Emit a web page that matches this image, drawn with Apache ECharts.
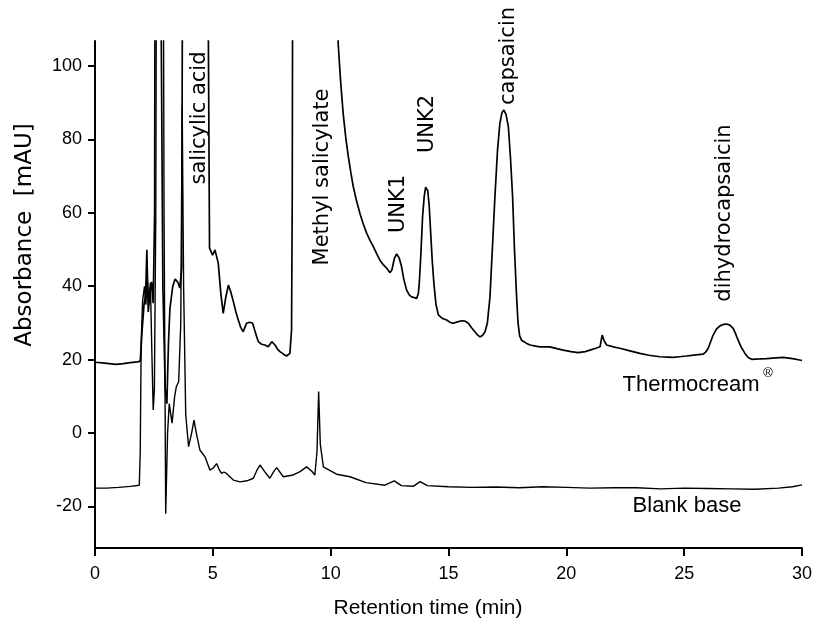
<!DOCTYPE html>
<html>
<head>
<meta charset="utf-8">
<script src="https://cdn.jsdelivr.net/npm/echarts@6/dist/echarts.min.js"></script>
<style>
html,body{margin:0;padding:0;background:#fff;}
#chart{width:815px;height:623px;}
</style>
</head>
<body>
<div id="chart"></div>
<script>
// Thermocream trace (retention time in min, absorbance in mAU)
var thermoTime = [0.0,0.3,0.6,0.9,1.2,1.5,1.8,1.92,2.0,2.08,2.15,2.2,2.26,2.33,2.4,2.47,2.53,2.58,2.7,2.8,2.88,2.98,3.05,3.12,3.18,3.3,3.4,3.52,3.6,3.68,3.76,4.7,4.8,4.86,4.99,5.09,5.23,5.34,5.44,5.55,5.66,5.76,5.87,5.98,6.08,6.18,6.29,6.36,6.43,6.56,6.69,6.8,6.93,7.07,7.21,7.35,7.5,7.64,7.75,7.85,8.0,8.13,8.27,8.34,8.37,8.42,10.2,10.32,10.42,10.53,10.64,10.75,10.86,10.96,11.1,11.24,11.38,11.53,11.67,11.81,11.95,12.09,12.24,12.38,12.52,12.6,12.7,12.8,12.9,13.01,13.1,13.22,13.34,13.44,13.55,13.65,13.72,13.76,13.83,13.9,13.97,14.03,14.07,14.12,14.18,14.24,14.31,14.38,14.47,14.57,14.75,14.92,15.06,15.2,15.38,15.56,15.7,15.84,15.98,16.12,16.22,16.33,16.44,16.55,16.65,16.76,16.86,16.97,17.08,17.18,17.27,17.35,17.44,17.54,17.63,17.72,17.8,17.89,17.95,18.02,18.1,18.3,18.46,18.7,18.88,19.1,19.3,19.6,19.87,20.2,20.5,20.8,21.0,21.25,21.43,21.52,21.6,21.71,22.0,22.27,22.7,23.12,23.5,23.97,24.3,24.54,24.8,25.1,25.5,25.81,25.92,26.02,26.12,26.23,26.37,26.52,26.66,26.8,26.94,27.08,27.18,27.29,27.43,27.58,27.72,27.86,28.2,28.5,28.9,29.2,29.6,29.9,30.0];
var thermoAbs = [19.3,19.1,18.9,18.7,18.9,19.2,19.4,19.6,28,35,38,49.9,33,38,41.2,35.4,60,250,250,120,40,12,8,25,34,40,42,41,39.5,45,250,250,120,50.4,48.5,49.9,46.3,38,32.6,37,40.3,38.5,35.8,33,30.8,28.8,27.6,28.8,29.9,30.2,29.9,27.5,24.9,24.2,24.0,23.5,24.9,24.0,22.8,22.2,21.5,21.0,21.7,28,64,250,250,106,96,87.1,80.5,75.3,70.8,67.1,63.2,59.9,57,54.4,52.5,50.8,48.9,47.1,45.8,44.9,43.7,44.5,47.5,48.8,47.8,45.3,42,39.0,37.6,37.1,36.9,36.7,38,40.8,49,58.9,64.5,67,67.3,66,62,55,47,40.8,35,32.2,31.2,30.8,30.2,29.9,30.3,30.6,30.5,29.9,28.7,27.6,26.8,26.2,26.6,27.6,30,37.1,50,64.4,77,84.4,87.3,88.0,86.8,83.5,75,64.4,50,37.1,30,26.5,25.3,24.5,24.0,23.7,23.5,23.5,23.5,23.0,22.6,22.2,21.9,22.2,22.6,23.1,23.5,26.7,25.2,24.0,23.5,23.1,22.4,21.7,21.2,20.8,20.7,20.6,20.8,21.0,21.3,21.5,22.1,23.1,24.8,26.7,28.3,29.2,29.6,29.7,29.4,28.5,27.1,25.3,23.3,21.7,20.6,20.1,20.2,20.3,20.5,20.6,20.3,19.9,19.8];

// Blank base trace
var blankTime = [0.0,0.5,1.0,1.5,1.88,1.92,1.96,2.02,2.1,2.16,2.22,2.28,2.35,2.42,2.47,2.52,2.58,2.65,2.85,2.93,3.0,3.08,3.15,3.27,3.38,3.45,3.55,3.64,3.7,3.76,3.85,3.97,4.03,4.1,4.2,4.3,4.45,4.67,4.88,5.02,5.16,5.26,5.37,5.47,5.58,5.87,6.15,6.45,6.72,6.88,7.0,7.2,7.42,7.58,7.71,7.99,8.41,8.7,8.98,9.2,9.33,9.42,9.49,9.56,9.69,10.25,10.82,11.5,12.3,12.7,13.0,13.5,13.8,14.1,15,16,17,18,19,20,21,22,23,24,25,26,27,28,29,29.6,30.0];
var blankAbs = [-15.0,-15.0,-14.8,-14.5,-14.2,-5,25,36,40,35,42,36,41,20,6.3,12,60,250,250,60,-22,0,8,2.7,10,12.6,14,30,89,40,5,-3.7,-3.7,0,3.5,0,-4.6,-6.5,-10.1,-9.5,-8.3,-9.8,-11,-10.6,-11,-12.8,-13.3,-13.0,-12.3,-10,-8.7,-10.5,-12.3,-10.5,-9.4,-11.9,-11.4,-10.5,-9.2,-10.4,-11.4,-5,11.3,-3,-9.2,-11.2,-11.9,-13.5,-14.2,-13.0,-14.3,-14.5,-13.2,-14.3,-14.6,-14.8,-14.7,-14.9,-14.6,-14.8,-15.0,-14.9,-14.9,-15.2,-15.0,-15.1,-15.2,-15.3,-15.0,-14.6,-14.1];

// Axis ticks
var xTicks = [0,5,10,15,20,25,30];
var yTicks = [-20,0,20,40,60,80,100];

function zip(a, b) { return a.map(function (v, i) { return [v, b[i]]; }); }

var FONT = 'Liberation Sans, Arial, sans-serif';
var WIDE = 'DejaVu Sans, sans-serif';
var chart = echarts.init(document.getElementById('chart'));

function rotLabel(text, x, y, size) {
  return { type: 'text', x: x, y: y, rotation: Math.PI / 2,
    style: { text: text, font: (size || 21) + 'px ' + WIDE, fill: '#000', align: 'center', verticalAlign: 'middle' } };
}

chart.setOption({
  animation: false,
  backgroundColor: '#fff',
  grid: { left: 95, right: 13, top: 41, bottom: 75, containLabel: false },
  xAxis: {
    type: 'value', min: 0, max: 30, interval: 5,
    axisLine: { show: true, onZero: false, lineStyle: { color: '#000', width: 2 } },
    axisTick: { show: true, length: 8, lineStyle: { color: '#000', width: 2 } },
    axisLabel: { color: '#000', fontSize: 18, fontFamily: FONT, margin: 17, customValues: xTicks },
    splitLine: { show: false }
  },
  yAxis: {
    type: 'value', min: -31.3, max: 106.8,
    axisLine: { show: true, onZero: false, lineStyle: { color: '#000', width: 2 } },
    axisTick: { show: true, length: 7, lineStyle: { color: '#000', width: 2 }, customValues: yTicks },
    axisLabel: { color: '#000', fontSize: 18, fontFamily: FONT, margin: 13, customValues: yTicks },
    splitLine: { show: false }
  },
  series: [
    { name: 'Thermocream', type: 'line', data: zip(thermoTime, thermoAbs), showSymbol: false,
      lineStyle: { color: '#000', width: 1.7 }, clip: true },
    { name: 'Blank base', type: 'line', data: zip(blankTime, blankAbs), showSymbol: false,
      lineStyle: { color: '#000', width: 1.4 }, clip: true }
  ],
  graphic: [
    rotLabel('Absorbance  [mAU]', 25, 235, 23),
    { type: 'text', x: 428, y: 608, style: { text: 'Retention time (min)', font: '21px ' + FONT, fill: '#000', align: 'center', verticalAlign: 'middle' } },
    rotLabel('salicylic acid', 200, 118),
    rotLabel('Methyl salicylate', 323, 177),
    rotLabel('UNK1', 399, 204),
    rotLabel('UNK2', 428, 124),
    rotLabel('capsaicin', 509, 56),
    rotLabel('dihydrocapsaicin', 725, 213),
    { type: 'text', x: 691, y: 385, style: { text: 'Thermocream', font: '22px ' + FONT, fill: '#000', align: 'center', verticalAlign: 'middle' } },
    { type: 'text', x: 768, y: 373, style: { text: '\u00AE', font: '13px ' + FONT, fill: '#000', align: 'center', verticalAlign: 'middle' } },
    { type: 'text', x: 687, y: 506, style: { text: 'Blank base', font: '22px ' + FONT, fill: '#000', align: 'center', verticalAlign: 'middle' } }
  ]
});
</script>
</body>
</html>
